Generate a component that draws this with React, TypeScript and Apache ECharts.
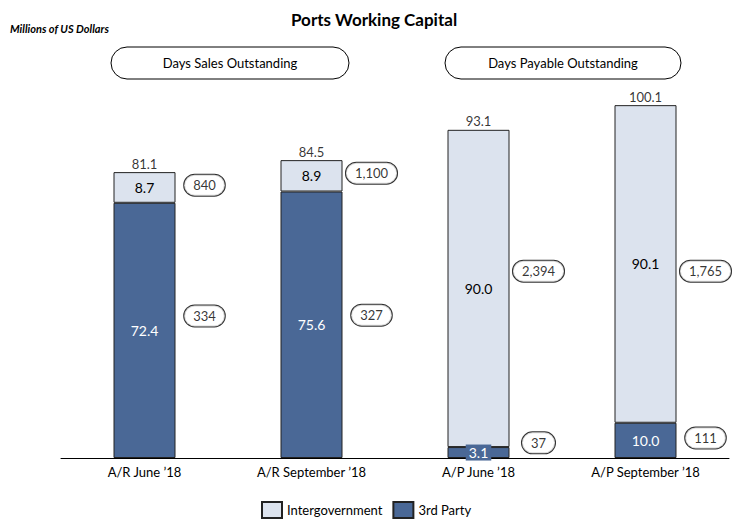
import React, { useEffect, useRef } from "react";
import * as echarts from "echarts";

const categories = ["A/R June \u201918", "A/R September \u201918", "A/P June \u201918", "A/P September \u201918"];
const thirdParty = [72.4, 75.6, 3.1, 10.0];
const intergovernment = [8.7, 8.9, 90.0, 90.1];
const intergovBalances = ["840", "1,100", "2,394", "1,765"];
const thirdPartyBalances = ["334", "327", "37", "111"];
const sectionTitles = ["Days Sales Outstanding", "Days Payable Outstanding"];

// layout: vertical placement (in axis units) of the balance ovals
const upperOvalY = [77.4, 80.8, 53.0, 53.0];
const lowerOvalY = [40.3, 40.5, 4.3, 5.7];

const FONT = "Lato, 'Open Sans', sans-serif";
const DARK = "#4a6896";
const LIGHT = "#dce3ee";

export default function App() {
  const ref = useRef<HTMLDivElement>(null);
  useEffect(() => {
    document.body.style.margin = "0";
    const chart = echarts.init(ref.current!, null, { renderer: "svg" });
    const totals = thirdParty.map((v, i) => +(v + intergovernment[i]).toFixed(1));
    const ovalLabel = {
      show: true,
      position: "inside",
      offset: [60, 0],
      fontSize: 13,
      fontFamily: FONT,
      color: "#000",
      backgroundColor: "#fff",
      borderColor: "#000",
      borderWidth: 1,
      borderRadius: 11,
      padding: [4, 9],
    };
    chart.setOption({
      animation: false,
      textStyle: { fontFamily: FONT },
      title: {
        text: "Ports Working Capital",
        left: 286,
        top: 6,
        textStyle: { fontSize: 17, fontWeight: "bold", color: "#000", fontFamily: FONT },
      },
      graphic: [
        {
          type: "text",
          left: 10,
          top: 23,
          style: { text: "Millions of US Dollars", font: `italic bold 11px ${FONT}`, fill: "#000" },
        },
        {
          type: "rect",
          shape: { x: 111, y: 47, width: 238, height: 32, r: 16 },
          style: { fill: "#fff", stroke: "#000", lineWidth: 1 },
        },
        {
          type: "text",
          x: 230,
          y: 63,
          style: { text: sectionTitles[0], font: `13px ${FONT}`, fill: "#000", align: "center", verticalAlign: "middle" },
        },
        {
          type: "rect",
          shape: { x: 445, y: 47, width: 236, height: 32, r: 16 },
          style: { fill: "#fff", stroke: "#000", lineWidth: 1 },
        },
        {
          type: "text",
          x: 563,
          y: 63,
          style: { text: sectionTitles[1], font: `13px ${FONT}`, fill: "#000", align: "center", verticalAlign: "middle" },
        },
      ],
      legend: {
        bottom: -2,
        left: 256,
        itemWidth: 20,
        itemHeight: 16,
        itemGap: 10,
        textStyle: { fontSize: 13, color: "#000", fontFamily: FONT },
        data: [
          { name: "Intergovernment", icon: "rect" },
          { name: "3rd Party", icon: "rect" },
        ],
      },
      grid: { left: 61, right: 5, top: 35, bottom: 64, containLabel: false },
      xAxis: {
        type: "category",
        data: categories,
        axisLine: { lineStyle: { color: "#000", width: 1 } },
        axisTick: { show: false },
        axisLabel: { color: "#000", fontSize: 13, margin: 7, fontFamily: FONT },
      },
      yAxis: { type: "value", min: 0, max: 120, show: false, splitLine: { show: false } },
      series: [
        {
          name: "3rd Party",
          type: "bar",
          stack: "s",
          barWidth: 62,
          data: thirdParty.map((v, i) =>
            i === 2
              ? {
                  value: v,
                  label: { backgroundColor: DARK, padding: [1, 3], position: "inside" },
                }
              : v
          ),
          itemStyle: { color: DARK, borderColor: "#222", borderWidth: 1 },
          label: {
            show: true,
            position: "inside",
            color: "#fff",
            fontSize: 14,
            fontFamily: FONT,
            formatter: (p: any) => Number(p.value).toFixed(1),
          },
        },
        {
          name: "Intergovernment",
          type: "bar",
          stack: "s",
          barWidth: 62,
          data: intergovernment,
          itemStyle: { color: LIGHT, borderColor: "#222", borderWidth: 1 },
          label: {
            show: true,
            position: "inside",
            color: "#000",
            fontSize: 14,
            fontFamily: FONT,
            formatter: (p: any) => Number(p.value).toFixed(1),
          },
        },
        {
          name: "totals",
          type: "scatter",
          symbolSize: 0,
          data: totals,
          label: {
            show: true,
            position: "top",
            distance: 2,
            color: "#000",
            fontSize: 13,
            fontFamily: FONT,
            formatter: (p: any) => Number(p.value).toFixed(1),
          },
          silent: true,
        },
        {
          name: "upperOvals",
          type: "scatter",
          symbolSize: 0,
          data: upperOvalY.map((y, i) => [i, y]),
          label: { ...ovalLabel, formatter: (p: any) => intergovBalances[p.dataIndex] },
          silent: true,
        },
        {
          name: "lowerOvals",
          type: "scatter",
          symbolSize: 0,
          data: lowerOvalY.map((y, i) => [i, y]),
          label: { ...ovalLabel, formatter: (p: any) => thirdPartyBalances[p.dataIndex] },
          silent: true,
        },
      ],
    });
    return () => chart.dispose();
  }, []);
  return <div ref={ref} style={{ width: 734, height: 522 }} />;
}
